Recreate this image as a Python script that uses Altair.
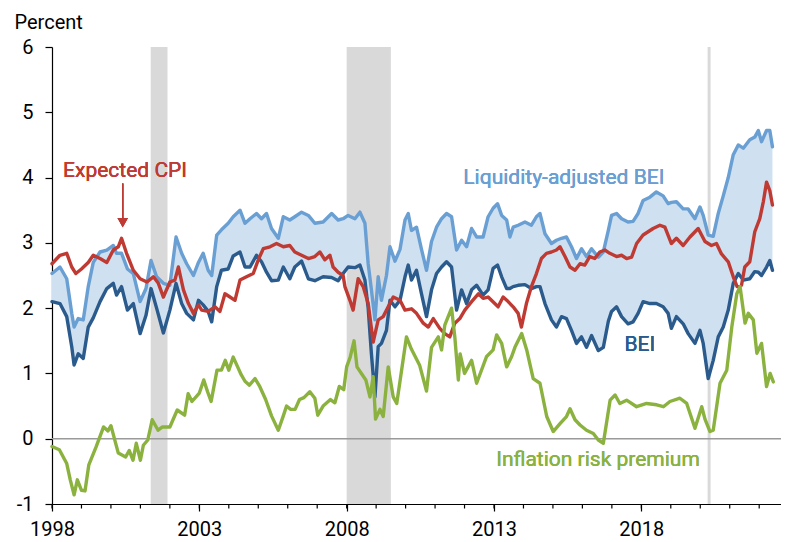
import altair as alt
import pandas as pd

# ---- data ----
bei_years = [1998.0, 1998.27, 1998.5, 1998.67, 1998.75, 1998.89, 1999.06, 1999.23, 1999.4, 1999.63,
             1999.86, 2000.08, 2000.19, 2000.36, 2000.56, 2000.76, 2000.99, 2001.19, 2001.36, 2001.55,
             2001.78, 2002.0, 2002.21, 2002.4, 2002.57, 2002.8, 2002.97,
             2003.13, 2003.3, 2003.42, 2003.59, 2003.75, 2003.98, 2004.15, 2004.38, 2004.55,
             2004.72, 2004.94, 2005.11, 2005.28, 2005.45, 2005.68, 2005.85, 2006.07, 2006.24, 2006.47,
             2006.7, 2006.92, 2007.2, 2007.49, 2007.71, 2007.88,
             2008.05, 2008.28, 2008.45, 2008.62, 2008.73, 2008.84, 2008.96, 2009.07, 2009.18, 2009.35,
             2009.47, 2009.64, 2009.81, 2009.98, 2010.09, 2010.2, 2010.37, 2010.54, 2010.71, 2010.88,
             2011.05, 2011.22, 2011.39, 2011.56, 2011.73, 2011.9, 2012.07, 2012.24, 2012.41, 2012.63,
             2012.8, 2012.97,
             2013.12, 2013.26, 2013.43, 2013.54, 2013.65, 2013.82, 2014.05, 2014.27, 2014.44, 2014.56,
             2014.73, 2014.95, 2015.12, 2015.29, 2015.46, 2015.63, 2015.8, 2015.97, 2016.14, 2016.31,
             2016.54, 2016.71, 2016.88, 2016.99, 2017.16, 2017.33, 2017.55, 2017.72, 2017.89,
             2018.06, 2018.29, 2018.51, 2018.74, 2018.91, 2019.02, 2019.19, 2019.42, 2019.59, 2019.82,
             2019.99, 2020.1, 2020.27, 2020.44, 2020.61, 2020.78, 2020.95, 2021.12, 2021.29, 2021.46,
             2021.68, 2021.85, 2021.97, 2022.08, 2022.25, 2022.36, 2022.45]

bei_values = [2.1, 2.07, 1.87, 1.41, 1.13, 1.3, 1.23, 1.71, 1.85, 2.1,
              2.3, 2.38, 2.2, 2.33, 1.97, 2.07, 1.61, 1.89, 2.3, 2.0,
              1.62, 1.97, 2.38, 2.07, 1.92, 1.82, 2.12,
              2.05, 1.95, 1.79, 2.33, 2.58, 2.6, 2.8, 2.86, 2.63,
              2.63, 2.81, 2.71, 2.55, 2.42, 2.43, 2.63, 2.45, 2.63, 2.72,
              2.45, 2.42, 2.48, 2.47, 2.42, 2.53,
              2.63, 2.62, 2.66, 2.43, 2.0, 1.3, 0.64, 1.41, 1.46, 1.66,
              2.12, 2.02, 2.12, 2.48, 2.66, 2.43, 2.58, 2.22, 1.87, 2.28,
              2.53, 2.63, 2.71, 2.63, 1.97, 2.28, 2.07, 2.28, 2.35, 2.2,
              2.28, 2.61,
              2.66, 2.48, 2.3, 2.3, 2.33, 2.35, 2.36, 2.3, 2.33, 2.33,
              2.07, 1.82, 1.71, 1.87, 1.84, 1.66, 1.46, 1.56, 1.4, 1.58,
              1.35, 1.4, 1.8, 1.95, 2.02, 1.87, 1.76, 1.79, 1.92,
              2.1, 2.07, 2.07, 2.02, 1.92, 1.69, 1.87, 1.76, 1.61, 1.46,
              1.66, 1.46, 0.92, 1.2, 1.56, 1.71, 1.97, 2.38, 2.53, 2.43,
              2.45, 2.56, 2.55, 2.5, 2.63, 2.73, 2.58]

liq_values = [2.53, 2.63, 2.45, 1.92, 1.71, 1.84, 1.82, 2.33, 2.7, 2.86,
              2.89, 2.96, 2.84, 2.84, 2.6, 2.53, 2.1, 2.3, 2.73, 2.48,
              2.38, 2.35, 3.09, 2.84, 2.68, 2.5, 2.7,
              2.84, 2.58, 2.5, 3.12, 3.2, 3.3, 3.4, 3.5, 3.3,
              3.37, 3.45, 3.37, 3.45, 3.22, 3.07, 3.4, 3.35, 3.4, 3.47,
              3.42, 3.3, 3.32, 3.45, 3.35, 3.37,
              3.42, 3.37, 3.47, 3.3, 2.68, 2.28, 1.82, 2.48, 2.12, 2.5,
              2.94, 2.72, 2.9, 3.35, 3.45, 3.19, 3.24, 2.9, 2.58, 3.02,
              3.24, 3.37, 3.45, 3.4, 2.89, 3.04, 2.94, 3.22, 3.09, 3.09,
              3.4, 3.53,
              3.6, 3.42, 3.35, 3.09, 3.24, 3.27, 3.32, 3.27, 3.4, 3.45,
              3.14, 2.99, 3.04, 3.07, 3.09, 2.94, 2.76, 2.91, 2.79, 2.91,
              2.78, 2.86, 3.19, 3.42, 3.45, 3.37, 3.32, 3.33, 3.45,
              3.65, 3.7, 3.78, 3.72, 3.6, 3.62, 3.63, 3.52, 3.52, 3.37,
              3.55, 3.42, 3.12, 3.1, 3.45, 3.72, 4.0, 4.35, 4.5, 4.45,
              4.58, 4.62, 4.72, 4.55, 4.72, 4.72, 4.47]

cpi_years = [1998.0, 1998.27, 1998.5, 1998.67, 1998.81, 1999.0, 1999.23, 1999.4, 1999.63, 1999.86,
             2000.08, 2000.25, 2000.36, 2000.53, 2000.76, 2000.99, 2001.22, 2001.44, 2001.61, 2001.78,
             2002.0, 2002.17, 2002.29, 2002.46, 2002.63, 2002.8, 2002.97,
             2003.08, 2003.3, 2003.53, 2003.7, 2003.87, 2004.04, 2004.21, 2004.38, 2004.6, 2004.83,
             2005.0, 2005.17, 2005.4, 2005.62, 2005.85, 2006.07, 2006.24, 2006.47, 2006.7, 2006.92,
             2007.09, 2007.26, 2007.43, 2007.54, 2007.71, 2007.88,
             2007.94, 2008.11, 2008.22, 2008.39, 2008.56, 2008.73, 2008.9, 2009.07, 2009.24, 2009.41,
             2009.58, 2009.81, 2009.98, 2010.2, 2010.37, 2010.6, 2010.77, 2010.94, 2011.16, 2011.33,
             2011.5, 2011.67, 2011.84, 2012.01, 2012.24, 2012.47, 2012.63, 2012.8,
             2013.14, 2013.31, 2013.48, 2013.65, 2013.82, 2013.93, 2014.1, 2014.27, 2014.44, 2014.61,
             2014.78, 2014.95, 2015.12, 2015.24, 2015.41, 2015.58, 2015.75, 2015.92, 2016.08, 2016.25,
             2016.42, 2016.59, 2016.76, 2016.93, 2017.16, 2017.33, 2017.5, 2017.67,
             2017.84, 2018.06, 2018.23, 2018.4, 2018.63, 2018.8, 2019.02, 2019.19, 2019.42, 2019.65,
             2019.93, 2020.16, 2020.38, 2020.55, 2020.72, 2020.95, 2021.12, 2021.25, 2021.4, 2021.51,
             2021.68, 2021.85, 2022.02, 2022.14, 2022.25, 2022.36, 2022.45]

cpi_values = [2.68, 2.81, 2.84, 2.63, 2.53, 2.6, 2.7, 2.81, 2.76, 2.7,
              2.89, 2.94, 3.07, 2.84, 2.58, 2.45, 2.4, 2.48, 2.38, 2.17,
              2.4, 2.43, 2.63, 2.28, 2.07, 1.92, 2.05,
              1.97, 1.95, 2.02, 1.95, 2.22, 2.17, 2.12, 2.43, 2.48, 2.53,
              2.74, 2.91, 2.94, 2.99, 2.94, 2.96, 2.86, 2.81, 2.76, 2.79,
              2.86, 2.74, 2.81, 2.63, 2.55, 2.5,
              2.33, 2.12, 1.97, 2.45, 2.33, 2.07, 1.48, 1.82, 1.87, 2.02,
              2.17, 2.12, 1.97, 1.99, 1.92, 1.77, 1.71, 1.84, 1.69, 1.61,
              1.56, 1.77, 1.84, 1.97, 2.1, 2.22, 2.15, 2.17,
              2.02, 2.17, 2.1, 2.02, 1.92, 1.71, 2.07, 2.33, 2.53, 2.76,
              2.84, 2.86, 2.89, 2.94, 2.79, 2.63, 2.58, 2.68, 2.66, 2.79,
              2.76, 2.86, 2.89, 2.84, 2.79, 2.81, 2.76, 2.78,
              2.99, 3.12, 3.17, 3.22, 3.27, 3.24, 2.99, 3.07, 2.96, 3.09,
              3.22, 3.02, 2.96, 2.99, 2.83, 2.71, 2.48, 2.33, 2.35, 2.63,
              2.71, 3.17, 3.37, 3.63, 3.93, 3.8, 3.58]

irp_years = [1998.0, 1998.25, 1998.5, 1998.62, 1998.75, 1998.86, 1999.0, 1999.12, 1999.25, 1999.5,
             1999.75, 1999.9, 2000.0, 2000.25, 2000.5, 2000.62, 2000.75, 2000.86, 2001.0, 2001.1,
             2001.25, 2001.4, 2001.6, 2001.75, 2002.0, 2002.25, 2002.5, 2002.62, 2002.75, 2003.0,
             2003.15, 2003.28, 2003.4, 2003.6, 2003.75, 2003.88, 2004.0, 2004.15, 2004.3, 2004.42,
             2004.55, 2004.7, 2004.89, 2005.05, 2005.25, 2005.45, 2005.68, 2005.85, 2005.96, 2006.1,
             2006.25, 2006.4, 2006.55, 2006.75, 2006.92, 2007.02, 2007.2, 2007.45, 2007.6, 2007.75,
             2007.9, 2008.0, 2008.12, 2008.25, 2008.35, 2008.5, 2008.65, 2008.79, 2008.9, 2008.98,
             2009.13, 2009.24, 2009.41, 2009.58, 2009.7, 2010.03, 2010.2, 2010.48, 2010.71, 2010.88,
             2011.11, 2011.22, 2011.33, 2011.56, 2011.67, 2011.79, 2011.85, 2012.0, 2012.24, 2012.41,
             2012.75, 2012.97, 2013.09, 2013.26, 2013.43, 2013.6, 2013.71, 2013.94, 2014.11, 2014.33,
             2014.56, 2014.79, 2015.01, 2015.24, 2015.46, 2015.58, 2015.75, 2015.92, 2016.14, 2016.37,
             2016.54, 2016.71, 2016.94, 2017.11, 2017.27, 2017.5, 2017.84, 2018.18, 2018.52, 2018.75,
             2018.97, 2019.31, 2019.54, 2019.82, 2020.05, 2020.16, 2020.33, 2020.44, 2020.67, 2020.9,
             2021.07, 2021.24, 2021.35, 2021.52, 2021.63, 2021.8, 2021.92, 2022.08, 2022.25, 2022.37,
             2022.48]

irp_values = [-0.12, -0.17, -0.38, -0.63, -0.86, -0.63, -0.79, -0.8, -0.4, -0.12,
              0.18, 0.12, 0.2, -0.22, -0.28, -0.18, -0.33, -0.07, -0.33, -0.1,
              -0.02, 0.29, 0.13, 0.18, 0.18, 0.44, 0.36, 0.69, 0.57, 0.7,
              0.9, 0.72, 0.57, 1.05, 1.05, 1.2, 1.05, 1.25, 1.1, 0.98,
              0.88, 0.82, 0.92, 0.8, 0.6, 0.35, 0.13, 0.35, 0.5, 0.45,
              0.45, 0.6, 0.63, 0.72, 0.62, 0.36, 0.5, 0.6, 0.55, 0.8,
              0.75, 1.1, 1.25, 1.5, 1.1, 1.0, 0.9, 0.64, 0.95, 0.3,
              0.45, 0.34, 1.1, 0.64, 0.54, 1.56, 1.37, 1.12, 0.73, 1.4,
              1.56, 1.36, 1.74, 2.0, 1.56, 0.9, 1.3, 1.0, 1.2, 0.85,
              1.26, 1.36, 1.59, 1.46, 1.1, 1.26, 1.4, 1.61, 1.36, 0.92,
              0.85, 0.34, 0.11, 0.23, 0.34, 0.46, 0.29, 0.21, 0.13, 0.08,
              -0.02, -0.07, 0.59, 0.67, 0.54, 0.59, 0.49, 0.54, 0.52, 0.49,
              0.57, 0.62, 0.54, 0.16, 0.49, 0.3, 0.11, 0.13, 0.85, 1.05,
              1.71, 2.22, 2.33, 1.77, 1.92, 1.82, 1.31, 1.46, 0.8, 1.0,
              0.87]

rec_start = [2001.35, 2008.0, 2020.25]
rec_end = [2001.92, 2009.5, 2020.35]

year_labels = [1998, 2003, 2008, 2013, 2018]
minor_years = list(range(1998, 2023))
pct_ticks = list(range(-1, 7))

# ---- styling ----
LIGHT = "#6a9fd3"
FILL = "#cfe0f1"
DARK = "#2a5b8c"
RED = "#bf3a33"
GREEN = "#8bb23f"
SHADE = "#d9d9d9"
FONT = "Roboto"

W, H = 729, 457

band_df = pd.DataFrame({"year": bei_years, "bei": bei_values, "liq": liq_values})
cpi_df = pd.DataFrame({"year": cpi_years, "val": cpi_values})
irp_df = pd.DataFrame({"year": irp_years, "val": irp_values})
rec_df = pd.DataFrame({"start": rec_start, "end": rec_end})
minor_df = pd.DataFrame({"year": minor_years})

xscale = alt.Scale(domain=[1998, 2022.74], nice=False, zero=False)
yscale = alt.Scale(domain=[-1, 6], nice=False, zero=False)

x_axis = alt.Axis(
    values=year_labels, format="d",
    tickSize=7,
    labelPadding=8, labelFontSize=20, labelFont=FONT, labelColor="#000",
    labelOverlap=False, labelFlush=False,
    domainColor="#000", tickColor="#000", domainWidth=1.2, tickWidth=1.2,
    grid=False, title=None,
)
y_axis = alt.Axis(
    values=pct_ticks, labelExpr="'' + datum.value",
    tickSize=7, labelPadding=12, labelFontSize=20, labelFont=FONT, labelColor="#000",
    domainColor="#000", tickColor="#000", domainWidth=1.2, tickWidth=1.2,
    grid=False,
    title="Percent", titleAngle=0, titleAlign="left", titleBaseline="alphabetic",
    titleX=-38, titleY=-18.7, titleFontSize=20, titleFont=FONT,
    titleFontWeight="normal", titleColor="#000",
)


def X(field):
    return alt.X(field, scale=xscale, axis=x_axis, title=None)


def Y(field):
    return alt.Y(field, scale=yscale, axis=y_axis, title="Percent")


rects = alt.Chart(rec_df).mark_rect(color=SHADE).encode(
    x=X("start:Q"),
    x2="end:Q",
    y=alt.value(0),
    y2=alt.value(H),
)

minor_ticks = alt.Chart(minor_df).mark_rule(color="#000", strokeWidth=1.2).encode(
    x=X("year:Q"),
    y=alt.value(H),
    y2=alt.value(H + 4.5),
)

zero = alt.Chart(rec_df).mark_rule(color="#9a9a9a", strokeWidth=1).encode(
    y=alt.datum(0, scale=yscale, axis=y_axis, title="Percent")
)

band = alt.Chart(band_df).mark_area(color=FILL, opacity=1).encode(
    x=X("year:Q"),
    y=Y("bei:Q"),
    y2="liq:Q",
)

line_kw = dict(strokeWidth=3.4, strokeJoin="round", strokeCap="round")

liq_line = alt.Chart(band_df).mark_line(color=LIGHT, **line_kw).encode(
    x=X("year:Q"), y=Y("liq:Q"),
)
bei_line = alt.Chart(band_df).mark_line(color=DARK, **line_kw).encode(
    x=X("year:Q"), y=Y("bei:Q"),
)
cpi_line = alt.Chart(cpi_df).mark_line(color=RED, **line_kw).encode(
    x=X("year:Q"), y=Y("val:Q"),
)
irp_line = alt.Chart(irp_df).mark_line(color=GREEN, **line_kw).encode(
    x=X("year:Q"), y=Y("val:Q"),
)


def label(text, x, y, color):
    return alt.Chart(rec_df).mark_text(
        text=text, color=color, font=FONT, fontSize=21, align="center", baseline="middle"
    ).encode(x=alt.datum(x, scale=xscale), y=alt.datum(y, scale=yscale))


lab_cpi = label("Expected CPI", 2000.48, 4.1, RED)
lab_liq = label("Liquidity-adjusted BEI", 2015.37, 3.99, LIGHT)
lab_bei = label("BEI", 2017.95, 1.43, DARK)
lab_irp = label("Inflation risk premium", 2016.53, -0.33, GREEN)

arrow_line = alt.Chart(rec_df).mark_rule(color=RED, strokeWidth=1.5).encode(
    x=alt.datum(2000.4, scale=xscale),
    y=alt.datum(3.91, scale=yscale),
    y2=alt.datum(3.38),
)
arrow_head = alt.Chart(rec_df).mark_point(
    shape="triangle-down", filled=True, color=RED, size=110, opacity=1
).encode(
    x=alt.datum(2000.4, scale=xscale),
    y=alt.datum(3.31, scale=yscale),
)

chart = alt.layer(
    rects, minor_ticks, zero, band, liq_line, bei_line, cpi_line, irp_line,
    lab_cpi, lab_liq, lab_bei, lab_irp, arrow_line, arrow_head,
).properties(
    width=W, height=H,
    autosize=alt.AutoSizeParams(type="none"),
    padding={"left": 44, "top": 39, "right": 0, "bottom": 38},
).configure_view(stroke=None).configure_axisX(labelOverlap=False)

chart.save("out.html", embed_options={"renderer": "svg", "actions": False})
